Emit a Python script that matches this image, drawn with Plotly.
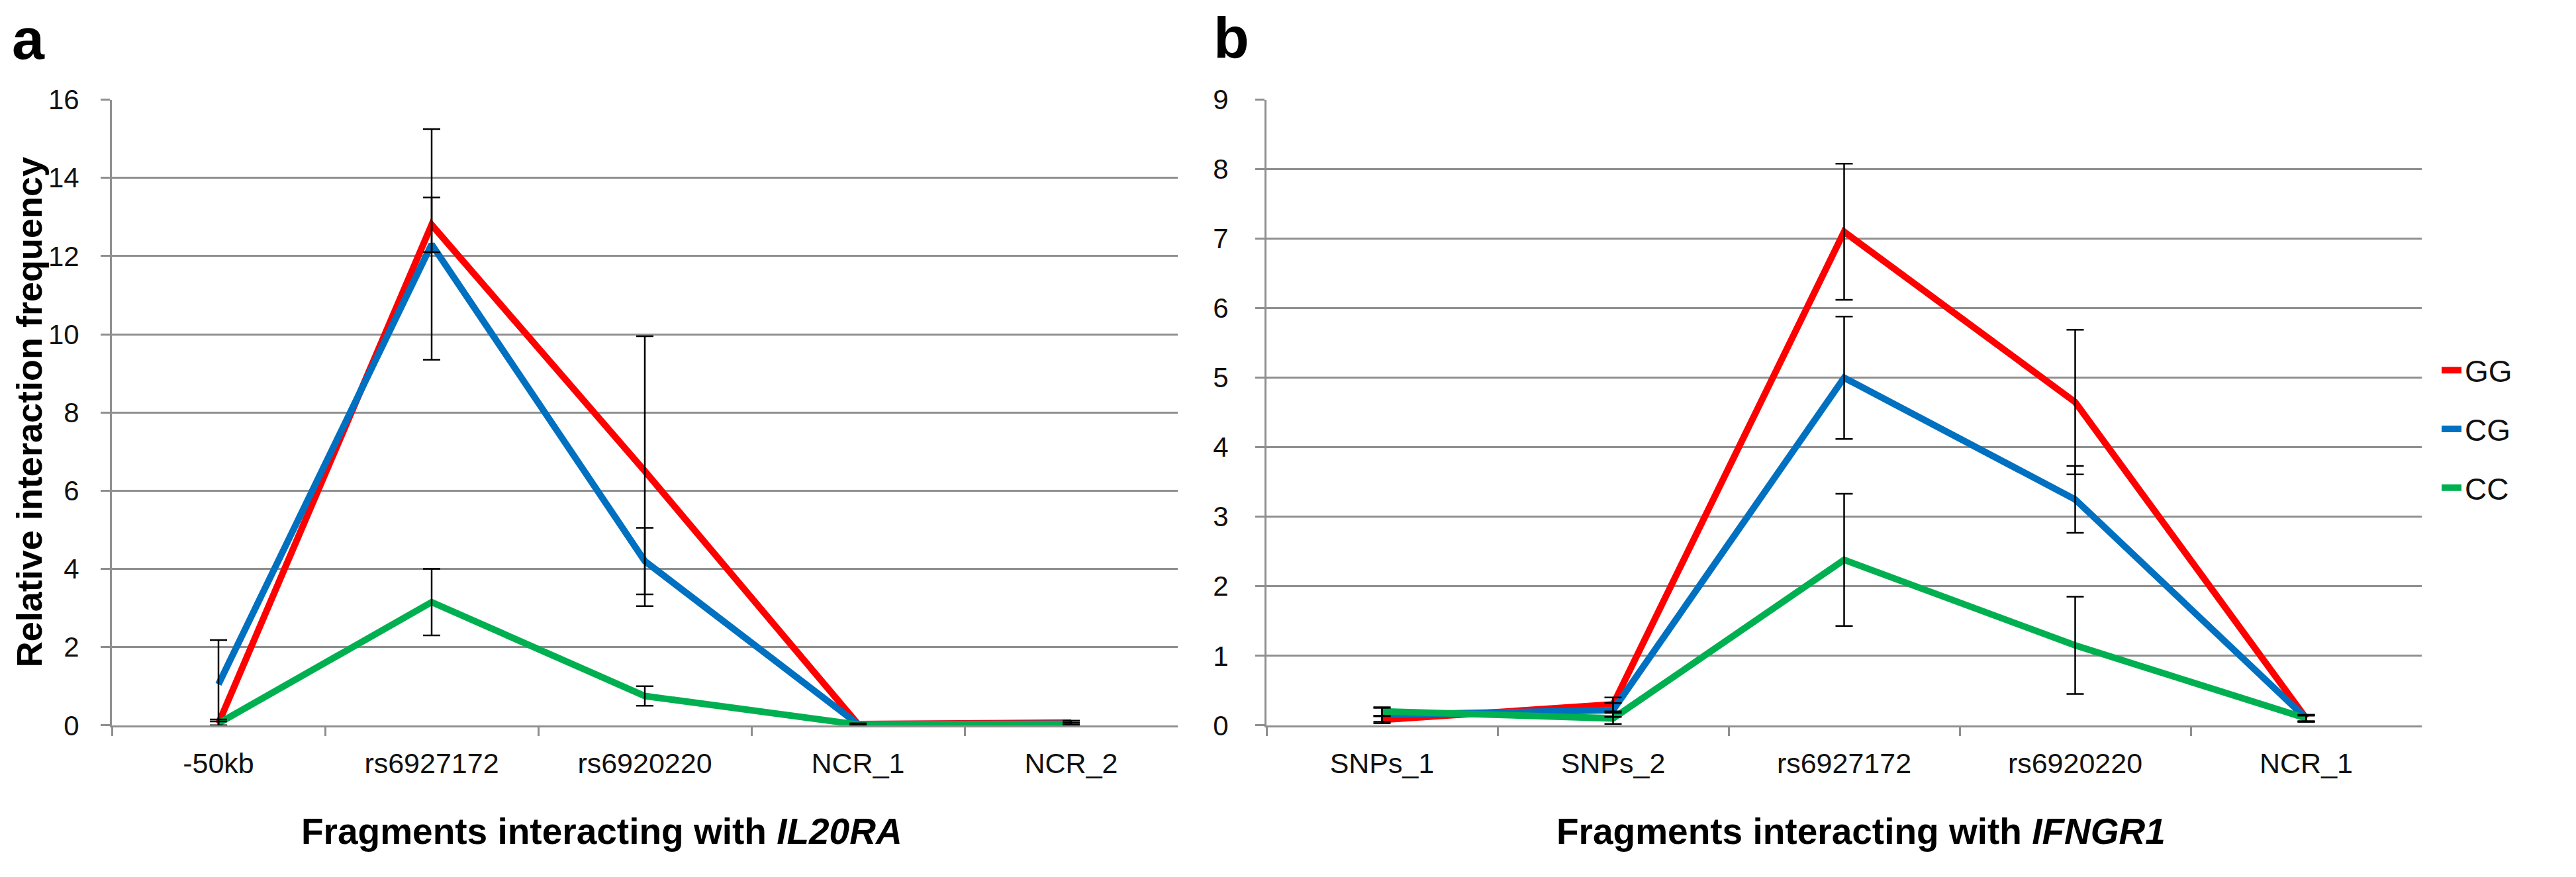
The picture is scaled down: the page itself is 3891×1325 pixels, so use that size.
import plotly.graph_objects as go

# ---------------- data ----------------
series_names = ["GG", "CG", "CC"]
series_colors = ["#FF0000", "#0070C0", "#00B050"]

cats_a = ["-50kb", "rs6927172", "rs6920220", "NCR_1", "NCR_2"]
gg_a = [0.05, 12.8, 6.5, 0.03, 0.07]
cg_a = [1.05, 12.3, 4.2, 0.03, 0.04]
cc_a = [0.05, 3.15, 0.75, 0.02, 0.03]
gg_a_err = [0.1, 0.7, 3.45, 0.02, 0.05]
cg_a_err = [1.13, 2.95, 0.85, 0.02, 0.03]
cc_a_err = [0.05, 0.85, 0.25, 0.02, 0.03]

cats_b = ["SNPs_1", "SNPs_2", "rs6927172", "rs6920220", "NCR_1"]
gg_b = [0.08, 0.3, 7.1, 4.65, 0.1]
cg_b = [0.15, 0.22, 5.0, 3.25, 0.1]
cc_b = [0.2, 0.1, 2.38, 1.15, 0.1]
gg_b_err = [0.05, 0.1, 0.98, 1.04, 0.05]
cg_b_err = [0.1, 0.1, 0.88, 0.48, 0.05]
cc_b_err = [0.06, 0.08, 0.95, 0.7, 0.04]

yticks_a = [0, 2, 4, 6, 8, 10, 12, 14, 16]
yticks_b = [0, 1, 2, 3, 4, 5, 6, 7, 8, 9]

ytitle = "Relative interaction frequency"
xtitle_a = "Fragments interacting with <i>IL20RA</i>"
xtitle_b = "Fragments interacting with <i>IFNGR1</i>"

# ---------------- layout helpers ----------------
W, H = 3891, 1325
FONT = "Liberation Sans, Arial, sans-serif"
GRID = "#8f8f8f"


def px(x):
    return x / W


def py(y):
    return 1 - y / H


fig = go.Figure()

panel_a = [(gg_a, gg_a_err), (cg_a, cg_a_err), (cc_a, cc_a_err)]
panel_b = [(gg_b, gg_b_err), (cg_b, cg_b_err), (cc_b, cc_b_err)]

for panel, cats, xa, ya, show in [(panel_a, cats_a, "x", "y", True),
                                  (panel_b, cats_b, "x2", "y2", False)]:
    for (vals, err), name, col in zip(panel, series_names, series_colors):
        fig.add_trace(go.Scatter(
            x=cats, y=vals, mode="lines", name=name, legendgroup=name,
            showlegend=show, line=dict(color=col, width=10),
            xaxis=xa, yaxis=ya))
    for (vals, err), name in zip(panel, series_names):
        fig.add_trace(go.Scatter(
            x=cats, y=vals, mode="markers", legendgroup=name, showlegend=False,
            marker=dict(size=1, color="rgba(0,0,0,0)"),
            error_y=dict(type="data", array=err, color="black",
                         thickness=2.5, width=13),
            hoverinfo="skip", xaxis=xa, yaxis=ya))

ydom = [py(1104), py(124)]

xcommon = dict(type="category", range=[-0.5, 4.5], tickson="boundaries",
               ticks="outside", ticklen=13, tickwidth=3, tickcolor=GRID,
               showline=True, linecolor=GRID, linewidth=3, showgrid=False,
               zeroline=False, ticklabelstandoff=18,
               tickfont=dict(family=FONT, size=43, color="#111"))
ycommon = dict(showgrid=True, gridcolor=GRID, gridwidth=3, showline=True,
               linecolor=GRID, linewidth=3, ticks="outside", ticklen=14,
               tickwidth=3, tickcolor=GRID, zeroline=False,
               tickfont=dict(family=FONT, size=42, color="#111"))

fig.update_layout(
    width=W, height=H, autosize=False,
    margin=dict(l=0, r=0, t=0, b=0),
    paper_bgcolor="white", plot_bgcolor="white",
    font=dict(family=FONT, color="#111"),
    xaxis=dict(domain=[px(161), px(1771)], anchor="y", **xcommon),
    yaxis=dict(domain=ydom, anchor="x", range=[0, 16], tickvals=yticks_a,
               ticklabelstandoff=24, **ycommon),
    xaxis2=dict(domain=[px(1905), px(3650)], anchor="y2", **xcommon),
    yaxis2=dict(domain=ydom, anchor="x2", range=[0, 9], tickvals=yticks_b,
                ticklabelstandoff=32, **ycommon),
    legend=dict(x=px(3675), xanchor="left", y=py(640), yanchor="middle",
                font=dict(family=FONT, size=46, color="#111"),
                tracegroupgap=26, bgcolor="rgba(0,0,0,0)"),
    showlegend=True,
)

annos = [
    dict(text="<b>" + ytitle + "</b>", x=px(36), y=py(614), textangle=-90,
         font=dict(family=FONT, size=54, color="#000")),
    dict(text="<b>" + xtitle_a + "</b>", x=px(901), y=py(1270),
         font=dict(family=FONT, size=55, color="#000")),
    dict(text="<b>" + xtitle_b + "</b>", x=px(2803), y=py(1270),
         font=dict(family=FONT, size=55, color="#000")),
    dict(text="<b>a</b>", x=px(8), y=py(28), xanchor="left",
         font=dict(family=FONT, size=88, color="#000")),
    dict(text="<b>b</b>", x=px(1823), y=py(26), xanchor="left",
         font=dict(family=FONT, size=88, color="#000")),
]
for a in annos:
    a.setdefault("xanchor", "center")
    a.setdefault("yanchor", "middle")
    fig.add_annotation(xref="paper", yref="paper", showarrow=False, **a)

fig.write_html("out.html")
